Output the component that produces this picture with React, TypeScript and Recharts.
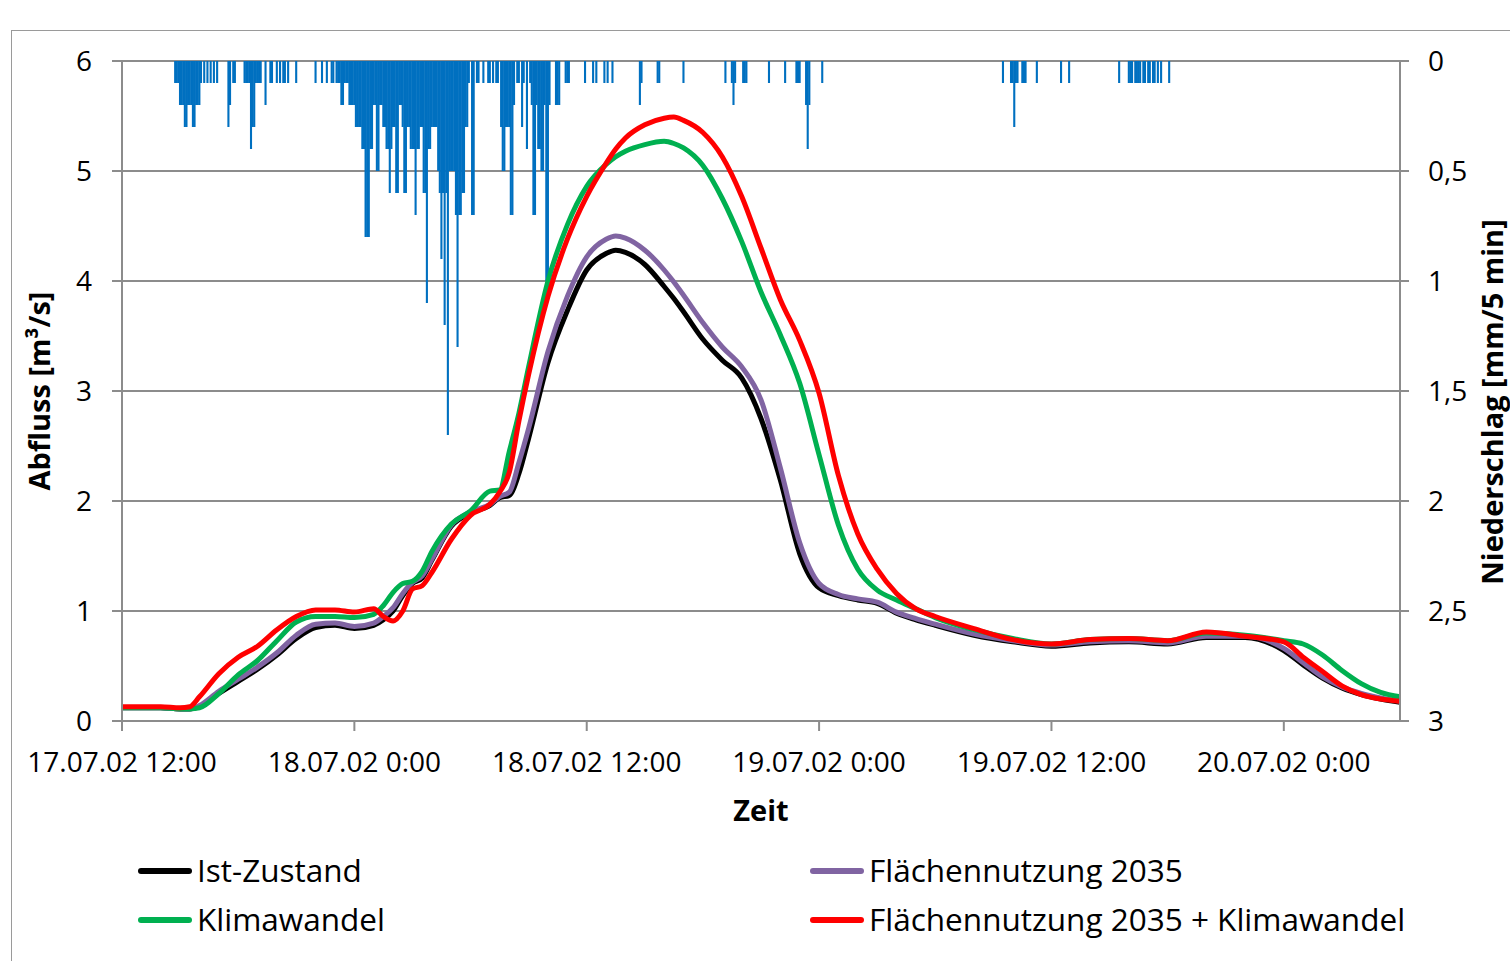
import React from 'react';
import { ComposedChart, Line, Bar, XAxis, YAxis, CartesianGrid, Label } from 'recharts';

// time axis: hours after 17.07.02 12:00
const xTicks = [0, 12, 24, 36, 48, 60];
const xTickLabels = ['17.07.02 12:00', '18.07.02 0:00', '18.07.02 12:00', '19.07.02 0:00', '19.07.02 12:00', '20.07.02 0:00'];
const flowTicks = [0, 1, 2, 3, 4, 5, 6];
const rainTicks = [0, 0.5, 1, 1.5, 2, 2.5, 3];

const hours = [0, 2, 3, 3.5, 4, 5, 6, 7, 8, 9, 10, 11, 12, 13, 13.5, 14, 14.5, 15, 15.5, 16, 17, 18, 19, 19.5, 20, 20.5, 21,
  22, 23, 24, 25, 25.5, 26, 27, 28, 28.5, 29, 30, 31, 32, 33, 34, 35, 36, 37, 38, 39, 40, 41, 42,
  44, 46, 48, 50, 52, 54, 56, 58, 60, 61, 62, 63, 64, 65, 66];

const istZustand = [0.12, 0.12, 0.11, 0.11, 0.13, 0.25, 0.36, 0.47, 0.6, 0.75, 0.85, 0.87, 0.84, 0.87, 0.92, 1.0, 1.14, 1.25, 1.3, 1.46, 1.77, 1.89, 1.96, 2.03, 2.05, 2.25, 2.57,
  3.26, 3.73, 4.1, 4.25, 4.28, 4.26, 4.15, 3.95, 3.84, 3.72, 3.47, 3.28, 3.12, 2.75, 2.19, 1.52, 1.21, 1.14, 1.1, 1.07, 0.98, 0.92, 0.87,
  0.78, 0.72, 0.68, 0.71, 0.72, 0.7, 0.76, 0.76, 0.64, 0.51, 0.39, 0.3, 0.24, 0.2, 0.17];

const flaeche2035 = [0.12, 0.12, 0.11, 0.11, 0.14, 0.27, 0.38, 0.49, 0.62, 0.78, 0.88, 0.89, 0.86, 0.89, 0.95, 1.03, 1.16, 1.26, 1.32, 1.47, 1.78, 1.9, 1.97, 2.04, 2.08, 2.35, 2.66,
  3.36, 3.86, 4.22, 4.38, 4.41, 4.39, 4.28, 4.1, 3.99, 3.87, 3.62, 3.4, 3.22, 2.92, 2.3, 1.62, 1.25, 1.15, 1.11, 1.08, 0.99, 0.93, 0.88,
  0.79, 0.73, 0.69, 0.72, 0.73, 0.71, 0.77, 0.77, 0.66, 0.53, 0.4, 0.31, 0.25, 0.21, 0.18];

const klimawandel = [0.12, 0.12, 0.11, 0.11, 0.12, 0.25, 0.42, 0.55, 0.73, 0.9, 0.95, 0.95, 0.94, 0.97, 1.05, 1.17, 1.25, 1.27, 1.36, 1.54, 1.79, 1.91, 2.09, 2.1, 2.45, 2.8, 3.22,
  4.0, 4.51, 4.86, 5.06, 5.13, 5.18, 5.24, 5.27, 5.25, 5.21, 5.05, 4.75, 4.36, 3.9, 3.51, 3.07, 2.42, 1.78, 1.38, 1.19, 1.1, 1.02, 0.94,
  0.83, 0.75, 0.7, 0.74, 0.75, 0.73, 0.8, 0.78, 0.73, 0.7, 0.6, 0.46, 0.34, 0.26, 0.22];

const flaeche2035Klima = [0.13, 0.13, 0.12, 0.13, 0.22, 0.43, 0.58, 0.68, 0.83, 0.95, 1.01, 1.01, 0.99, 1.02, 0.95, 0.91, 1.0, 1.2, 1.23, 1.35, 1.65, 1.87, 1.97, 2.08, 2.26, 2.73, 3.15,
  3.86, 4.38, 4.77, 5.07, 5.2, 5.3, 5.42, 5.48, 5.49, 5.46, 5.35, 5.13, 4.77, 4.3, 3.83, 3.46, 2.98, 2.23, 1.7, 1.38, 1.16, 1.02, 0.95,
  0.84, 0.74, 0.7, 0.74, 0.75, 0.73, 0.81, 0.77, 0.72, 0.58, 0.45, 0.32, 0.24, 0.2, 0.18];

// precipitation runs: start hour, number of 5-min intervals, mm per 5 min
const rainStart = [2.75, 3.0, 3.25, 3.42, 3.67, 3.83, 4.08, 4.25, 4.42, 4.58, 4.75, 4.92, 5.5, 5.58, 5.75, 6.33, 6.67, 6.75, 6.92, 7.42,
  7.67, 8.0, 8.17, 8.33, 8.58, 9.0, 10.0, 10.33, 10.58, 10.83, 11.08, 11.33, 11.5, 11.75, 12.08, 12.42, 12.58, 12.83, 13.0, 13.17,
  13.33, 13.5, 13.67, 13.83, 13.92, 14.0, 14.08, 14.17, 14.33, 14.5, 14.58, 14.75, 14.92, 15.17, 15.25, 15.42, 15.58, 15.75, 15.83, 16.0,
  16.08, 16.33, 16.42, 16.5, 16.58, 16.67, 16.75, 16.83, 16.92, 17.25, 17.33, 17.42, 17.58, 17.75, 17.92, 18.08, 18.33, 18.67, 18.92, 19.17,
  19.33, 19.58, 19.67, 19.83, 20.08, 20.25, 20.42, 20.67, 20.75, 20.92, 21.08, 21.17, 21.25, 21.42, 21.5, 21.67, 21.83, 21.92, 22.08, 22.42,
  22.92, 23.92, 24.33, 24.5, 24.92, 25.08, 25.33, 26.75, 26.83, 27.67, 29.0, 31.17, 31.5, 31.58, 31.67, 32.08, 33.42, 34.25, 34.83, 35.33,
  35.42, 35.5, 36.17, 45.5, 45.92, 46.08, 46.17, 46.5, 47.25, 48.5, 48.92, 51.5, 52.0, 52.33, 52.75, 53.0, 53.25, 53.5, 53.67, 54.08];
const rainSlots = [3, 3, 2, 3, 2, 3, 1, 1, 1, 1, 1, 1, 1, 1, 2, 4, 1, 2, 4, 1,
  2, 1, 1, 2, 1, 1, 1, 1, 1, 2, 3, 2, 3, 4, 4, 2, 3, 2, 2, 2,
  2, 2, 2, 1, 1, 1, 1, 2, 2, 1, 2, 2, 3, 1, 2, 2, 2, 1, 2, 1,
  3, 1, 1, 1, 1, 1, 1, 1, 4, 1, 1, 2, 2, 2, 1, 2, 2, 1, 2, 1,
  2, 1, 2, 3, 2, 1, 2, 1, 1, 1, 1, 1, 2, 1, 2, 2, 1, 2, 1, 3,
  3, 1, 1, 1, 1, 1, 1, 1, 1, 2, 1, 1, 1, 1, 1, 3, 1, 1, 3, 1,
  1, 1, 1, 1, 2, 1, 2, 3, 1, 1, 1, 1, 3, 4, 2, 2, 2, 1, 1, 1];
const rainMm = [0.1, 0.2, 0.3, 0.2, 0.3, 0.2, 0.1, 0.1, 0.1, 0.1, 0.1, 0.1, 0.3, 0.2, 0.1, 0.1, 0.4, 0.3, 0.1, 0.2,
  0.1, 0.1, 0.1, 0.1, 0.1, 0.1, 0.1, 0.1, 0.1, 0.1, 0.1, 0.2, 0.1, 0.2, 0.3, 0.4, 0.8, 0.4, 0.2, 0.5,
  0.2, 0.3, 0.4, 0.6, 0.4, 0.3, 0.3, 0.6, 0.2, 0.3, 0.6, 0.3, 0.4, 0.7, 0.4, 0.3, 0.6, 1.1, 0.4, 0.3,
  0.3, 0.5, 0.6, 0.9, 0.6, 1.2, 0.6, 1.7, 0.5, 0.7, 1.3, 0.7, 0.6, 0.3, 0.1, 0.7, 0.1, 0.1, 0.1, 0.1,
  0.1, 0.3, 0.5, 0.3, 0.7, 0.2, 0.1, 0.3, 0.1, 0.4, 0.1, 0.2, 0.7, 0.2, 0.4, 0.5, 0.2, 1.0, 0.2, 0.2,
  0.1, 0.1, 0.1, 0.1, 0.1, 0.1, 0.1, 0.2, 0.1, 0.1, 0.1, 0.1, 0.1, 0.2, 0.1, 0.1, 0.1, 0.1, 0.1, 0.2,
  0.4, 0.2, 0.1, 0.1, 0.1, 0.3, 0.1, 0.1, 0.1, 0.1, 0.1, 0.1, 0.1, 0.1, 0.1, 0.1, 0.1, 0.1, 0.1, 0.1];

const series = [
  { key: 'ist', name: 'Ist-Zustand', color: '#000000' },
  { key: 'f2035', name: 'Flächennutzung 2035', color: '#8064A2' },
  { key: 'klima', name: 'Klimawandel', color: '#00B050' },
  { key: 'f2035k', name: 'Flächennutzung 2035 + Klimawandel', color: '#FF0000' },
];

// legend placement: [column, row] per series
const legendCells = [[0, 0], [1, 0], [0, 1], [1, 1]];

const flowData = hours.map((t, i) => ({
  t,
  ist: istZustand[i],
  f2035: flaeche2035[i],
  klima: klimawandel[i],
  f2035k: flaeche2035Klima[i],
}));

const rainData: { t: number; rain: number }[] = [];
rainStart.forEach((s, i) => {
  const first = Math.round(s * 12);
  for (let k = 0; k < rainSlots[i]; k++) {
    rainData.push({ t: (first + k) / 12, rain: rainMm[i] });
  }
});

const FONT = '"Open Sans", sans-serif';
const GRID = '#8c8c8c';
const tickStyle = { fill: '#000', fontSize: 28, fontFamily: FONT };

// keep each 5-min bar a little wider than its slot so neighbours join up
const RainBar = (props: any) => {
  const x = Number(props.x), y = Number(props.y), width = Number(props.width), height = Number(props.height);
  if (!isFinite(x) || !isFinite(y) || !isFinite(height) || height === 0) return <g />;
  const top = height < 0 ? y + height : y;
  const h = Math.abs(height);
  const w = 2.1;
  return <rect x={x + (isFinite(width) ? width : 0) / 2 - w / 2} y={top} width={w} height={h} fill="#0070C0" />;
};

export default function App() {
  return (
    <div style={{ position: 'absolute', left: 0, top: 0, width: 1510, height: 961, overflow: 'hidden', background: '#fff', fontFamily: FONT }}>
      <div style={{ position: 'absolute', left: 11, top: 30, width: 1600, height: 1000, border: '1.5px solid #9a9a9a' }} />
      <div style={{ position: 'absolute', left: 0, top: 0 }}>
        <ComposedChart width={1510} height={961} data={rainData} margin={{ top: 61, right: 0, bottom: 0, left: 0 }}>
          <CartesianGrid vertical={false} stroke={GRID} strokeWidth={2} yAxisId="flow" />
          <XAxis
            dataKey="t"
            type="number"
            domain={[0, 66]}
            ticks={xTicks}
            tickFormatter={(v: number) => xTickLabels[xTicks.indexOf(v)]}
            height={240}
            tickSize={10}
            tickMargin={21}
            axisLine={{ stroke: GRID, strokeWidth: 2 }}
            tickLine={{ stroke: GRID, strokeWidth: 2 }}
            tick={tickStyle}
            interval={0}
          >
            <Label
              content={() => (
                <text x={761} y={821} textAnchor="middle" fontFamily={FONT} fontSize={29} fontWeight="bold" fill="#000">Zeit</text>
              )}
            />
          </XAxis>
          <YAxis
            yAxisId="flow"
            width={122}
            domain={[0, 6]}
            ticks={flowTicks}
            tickSize={10}
            tickMargin={20}
            axisLine={{ stroke: GRID, strokeWidth: 2 }}
            tickLine={{ stroke: GRID, strokeWidth: 2 }}
            tick={tickStyle}
            interval={0}
          >
            <Label
              content={() => (
                <text transform="translate(50,391) rotate(-90)" textAnchor="middle" fontFamily={FONT} fontSize={29} fontWeight="bold" fill="#000">Abfluss [m³/s]</text>
              )}
            />
          </YAxis>
          <YAxis
            yAxisId="rain"
            orientation="right"
            width={110}
            reversed
            domain={[0, 3]}
            ticks={rainTicks}
            tickFormatter={(v: number) => String(v).replace('.', ',')}
            tickSize={9}
            tickMargin={19}
            axisLine={{ stroke: GRID, strokeWidth: 2 }}
            tickLine={{ stroke: GRID, strokeWidth: 2 }}
            tick={tickStyle}
            interval={0}
          >
            <Label
              content={() => (
                <text transform="translate(1503,402) rotate(-90)" textAnchor="middle" fontFamily={FONT} fontSize={29} fontWeight="bold" fill="#000">Niederschlag [mm/5 min]</text>
              )}
            />
          </YAxis>
          <Bar yAxisId="rain" dataKey="rain" fill="#0070C0" barSize={2} shape={(p: any) => <RainBar {...p} />} isAnimationActive={false} />
          {series.map((s) => (
            <Line
              key={s.key}
              yAxisId="flow"
              data={flowData}
              dataKey={s.key}
              name={s.name}
              type="monotone"
              stroke={s.color}
              strokeWidth={5}
              dot={false}
              activeDot={false}
              isAnimationActive={false}
            />
          ))}
        </ComposedChart>
      </div>
      {series.map((s, i) => {
        const [c, r] = legendCells[i];
        const left = c === 0 ? 138 : 810;
        const cy = r === 0 ? 871 : 920;
        return (
          <div key={s.key}>
            <div style={{ position: 'absolute', left, top: cy - 3, width: 54, height: 6, borderRadius: 3, background: s.color }} />
            <div style={{ position: 'absolute', left: left + 59, top: cy - 21, fontSize: 31.5, lineHeight: '40px', color: '#000', whiteSpace: 'nowrap' }}>{s.name}</div>
          </div>
        );
      })}
    </div>
  );
}
